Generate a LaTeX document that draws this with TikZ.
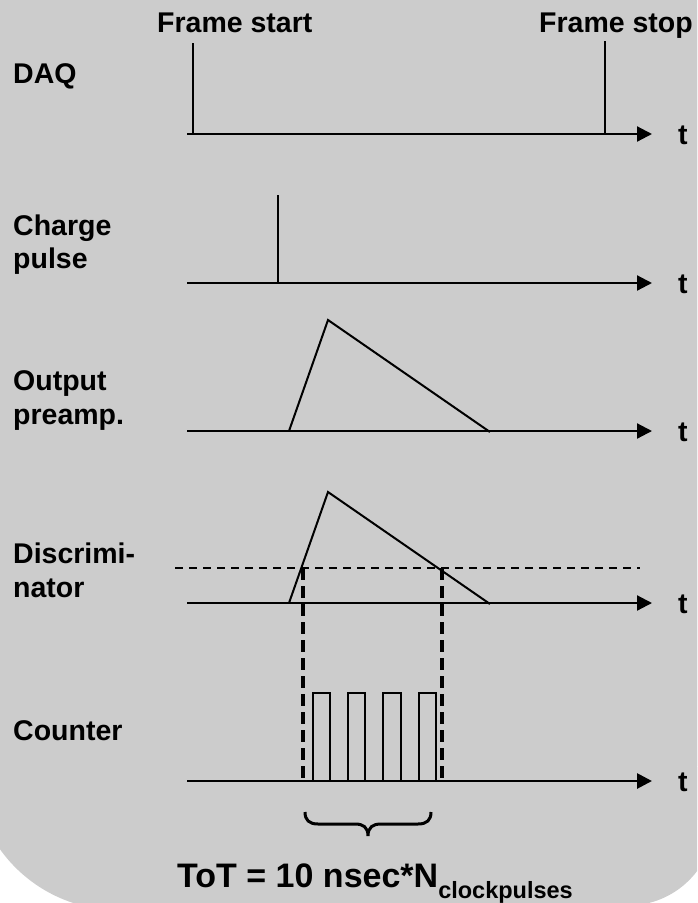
\documentclass[tikz,border=0pt]{standalone}
\usepackage{fontspec}
\setmainfont{Liberation Sans}
\usetikzlibrary{arrows.meta}
\definecolor{bgc}{HTML}{CCCCCC}
\begin{document}
\begin{tikzpicture}[x=1pt,y=-1pt,
  lbl/.style={font=\fontsize{28.5}{33}\selectfont\bfseries, inner sep=0pt, anchor=base west},
  axis/.style={line width=2.2pt, -{Triangle[length=15pt,width=15pt]}},
  sig/.style={line width=2pt, line join=miter},
  framemark/.style={line width=1.6pt},
  thresh/.style={line width=1.8pt, dash pattern=on 8pt off 6pt},
  gate/.style={line width=4pt, dash pattern=on 12pt off 6pt},
  pulsebox/.style={line width=2pt, line join=miter}]
\useasboundingbox (0,0) rectangle (697,903);
\clip (0,0) rectangle (697,903);
% background
\fill[bgc] (-30,-10) rectangle (720,766);
\fill[bgc] (117,-10) rectangle (629,912);
\fill[bgc] (627,-10) rectangle (720,820);
\fill[bgc] (118,765) circle[radius=145];
\fill[bgc] (628,819) circle[radius=86.5];
% labels
\node[lbl] (fstart) at (157,32) {Frame start};
\node[lbl] (fstop) at (539,32) {Frame stop};
\node[lbl] (daq) at (13,83) {DAQ};
\node[lbl] (cha) at (13,235) {Charge};
\node[lbl] (chb) at (13,268) {pulse};
\node[lbl] (opa) at (13,390) {Output};
\node[lbl] (opb) at (13,424) {preamp.};
\node[lbl] (dia) at (13,563) {Discrimi-};
\node[lbl] (dib) at (13,597) {nator};
\node[lbl] (cnt) at (13,740) {Counter};
% axes
\foreach \n/\y in {a1/134, a2/283, a3/431, a4/603, a5/781}{
  \coordinate (\n s) at (187,\y);
  \coordinate (\n e) at (652,\y);
  \node[lbl] (\n t) at (678,\y+10) {t};
}
\draw[axis] (a1s) -- (a1e);
\draw[axis] (a2s) -- (a2e);
\draw[axis] (a3s) -- (a3e);
\draw[axis] (a4s) -- (a4e);
\draw[axis, line width=2.8pt] (a5s) -- (a5e);
% DAQ frame marks
\coordinate (fs0) at (193,43); \coordinate (fs1) at (193,134);
\coordinate (fp0) at (605,41); \coordinate (fp1) at (605,134);
\draw[framemark] (fs0) -- (fs1);
\draw[framemark] (fp0) -- (fp1);
% charge pulse
\coordinate (cp0) at (278,195); \coordinate (cp1) at (278,283);
\draw[sig] (cp0) -- (cp1);
% preamp output
\coordinate (p0) at (289,431); \coordinate (p1) at (328,320); \coordinate (p2) at (490,432);
\draw[sig] (p0) -- (p1) -- (p2);
% discriminator
\coordinate (d0) at (289,603); \coordinate (d1) at (328,492); \coordinate (d2) at (490,604);
\draw[sig] (d0) -- (d1) -- (d2);
\coordinate (th0) at (175,568); \coordinate (th1) at (640,568);
\draw[thresh] (th0) -- (th1);
% gate lines
\coordinate (g1a) at (303,568); \coordinate (g1b) at (303,781);
\coordinate (g2a) at (442,568); \coordinate (g2b) at (442,781);
\draw[gate] (g1a) -- (g1b);
\draw[gate] (g2a) -- (g2b);
% counter pulses
\foreach \xa/\xb in {313/330, 348/365, 383/401, 419/436}{
  \draw[pulsebox] (\xa,781) -- (\xa,693) -- (\xb,693) -- (\xb,781);
}
% brace
\coordinate (bl) at (305,812); \coordinate (br) at (431,812); \coordinate (bt) at (368,836);
\draw[line width=3pt, line cap=butt]
  (bl) .. controls (305,820) and (309,824) .. (318,824) -- (355,824)
  .. controls (363,824) and (368,827) .. (bt)
  .. controls (368,827) and (373,824) .. (381,824) -- (418,824)
  .. controls (427,824) and (431,820) .. (br);
% ToT formula
\node[anchor=base west, inner sep=0pt, font=\fontsize{34}{39}\selectfont\bfseries] (tot) at (177,887)
  {ToT = 10 nsec*N\raisebox{-11pt}{\fontsize{23.5}{27}\selectfont clockpulses}};
\end{tikzpicture}
\end{document}
